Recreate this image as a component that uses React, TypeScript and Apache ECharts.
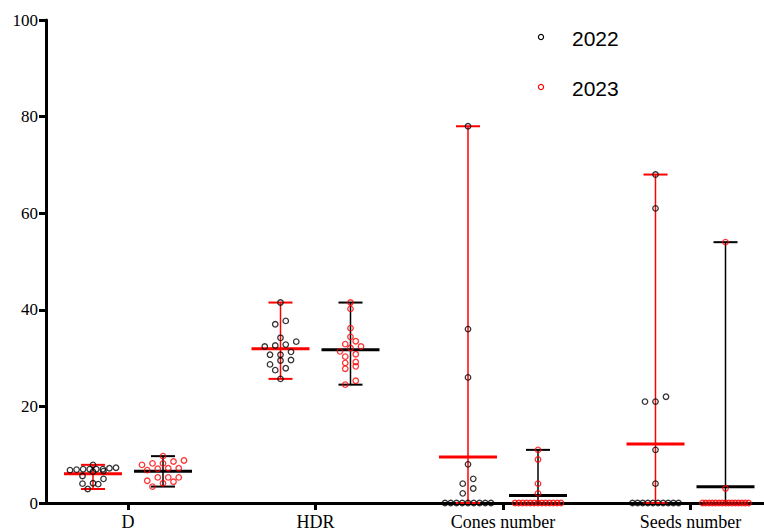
import React, { useEffect, useRef } from 'react';
import * as echarts from 'echarts';

// ---------------- data ----------------
const categories = ['D', 'HDR', 'Cones number', 'Seeds number'];
const yTicks = [0, 20, 40, 60, 80, 100];
const years = ['2022', '2023'];

const d2022 = [7.9, 7.2, 7.0, 7.0, 6.9, 7.0, 6.8, 7.0, 6.6, 7.3, 6.5, 5.6, 5.0, 4.0, 3.9, 4.1, 2.9];
const d2023 = [9.7, 8.2, 8.8, 8.2, 8.6, 7.9, 7.2, 7.1, 6.8, 7.2, 5.3, 5.3, 5.3, 4.1, 4.4, 4.6, 3.4];
const hdr2022 = [41.5, 37.0, 37.7, 34.2, 32.8, 32.4, 32.6, 33.4, 31.3, 30.7, 30.7, 29.6, 29.5, 28.7, 27.9, 27.5, 25.7];
const hdr2023 = [41.5, 40.2, 36.2, 34.4, 33.5, 32.9, 32.1, 32.4, 31.4, 30.8, 30.3, 29.0, 29.2, 28.3, 27.8, 25.3, 24.5];
const cones2022 = [78, 36, 26, 8, 5, 4, 3, 2, 0, 0, 0, 0, 0, 0, 0, 0, 0];
const cones2023 = [11, 9, 4, 2, 0, 0, 0, 0, 0, 0, 0, 0, 0, 0, 0, 0, 0];
const seeds2022 = [68, 61, 22, 21, 21, 11, 4, 0, 0, 0, 0, 0, 0, 0, 0, 0, 0];
const seeds2023 = [54, 3, 0, 0, 0, 0, 0, 0, 0, 0, 0, 0, 0, 0, 0, 0, 0];

const series2022 = [d2022, hdr2022, cones2022, seeds2022];
const series2023 = [d2023, hdr2023, cones2023, seeds2023];

// ---------------- layout ----------------
const W = 764;
const H = 532;
const GRID = { left: 46, right: 0, top: 20, bottom: 29 };
const X_MIN = 0.5627;
const X_MAX = 4.392;
const PX_PER_X = (W - GRID.left - GRID.right) / (X_MAX - X_MIN);
const PX_PER_Y = (H - GRID.top - GRID.bottom) / 100;
const GROUP_OFFSET_PX = 35;
const ROW_TOL_PX = 5;
const MAX_SPACING = 10.5;
const MAX_ROW_WIDTH = 46;

const RED = '#ff0000';
const BLACK = '#000000';
const SERIF = "'Liberation Serif', 'DejaVu Serif', serif";

function swarmOffsets(values: number[]): number[] {
  const idx = values.map((_, i) => i).sort((a, b) => values[a] - values[b]);
  const rows: number[][] = [];
  let cur: number[] = [];
  let start = 0;
  idx.forEach((i) => {
    if (cur.length === 0 || (values[i] - start) * PX_PER_Y >= ROW_TOL_PX) {
      if (cur.length) rows.push(cur);
      cur = [i];
      start = values[i];
    } else {
      cur.push(i);
    }
  });
  if (cur.length) rows.push(cur);
  const off = new Array(values.length).fill(0);
  rows.forEach((row) => {
    const k = row.length;
    const s = k > 1 ? Math.min(MAX_SPACING, MAX_ROW_WIDTH / (k - 1)) : 0;
    row.forEach((i, j) => {
      off[i] = (j - (k - 1) / 2) * s;
    });
  });
  return off;
}

function pointsFor(groups: number[][], side: number) {
  const pts: number[][] = [];
  groups.forEach((vals, ci) => {
    const offs = swarmOffsets(vals);
    const cx = ci + 1 + (side * GROUP_OFFSET_PX) / PX_PER_X;
    vals.forEach((v, i) => pts.push([cx + offs[i] / PX_PER_X, v]));
  });
  return pts;
}

function statsFor(groups: number[][], side: number) {
  return groups.map((vals, ci) => {
    const mean = vals.reduce((a, b) => a + b, 0) / vals.length;
    return [ci + 1 + (side * GROUP_OFFSET_PX) / PX_PER_X, Math.min(...vals), Math.max(...vals), mean];
  });
}

function statsRenderer(color: string) {
  return (params: any, api: any) => {
    const x = api.value(0);
    const lo = api.coord([x, api.value(1)]);
    const hi = api.coord([x, api.value(2)]);
    const m = api.coord([x, api.value(3)]);
    const capW = 12;
    const meanW = 29;
    return {
      type: 'group',
      children: [
        { type: 'line', shape: { x1: lo[0], y1: lo[1], x2: hi[0], y2: hi[1] }, style: { stroke: color, lineWidth: 1.5 } },
        { type: 'line', shape: { x1: lo[0] - capW, y1: lo[1], x2: lo[0] + capW, y2: lo[1] }, style: { stroke: color, lineWidth: 2 } },
        { type: 'line', shape: { x1: hi[0] - capW, y1: hi[1], x2: hi[0] + capW, y2: hi[1] }, style: { stroke: color, lineWidth: 2 } },
        { type: 'line', shape: { x1: m[0] - meanW, y1: m[1], x2: m[0] + meanW, y2: m[1] }, style: { stroke: color, lineWidth: 3 } },
      ],
    };
  };
}

const catValues = categories.map((_, i) => i + 1);

export default function App() {
  const ref = useRef<HTMLDivElement>(null);
  useEffect(() => {
    if (!ref.current) return;
    const chart = echarts.init(ref.current, undefined, { renderer: 'svg' });
    const pointStyle = (c: string) => ({ color: 'rgba(255,255,255,0)', borderColor: c, borderWidth: 1.3 });
    chart.setOption({
      animation: false,
      backgroundColor: '#ffffff',
      textStyle: { fontFamily: SERIF },
      grid: { ...GRID, containLabel: false },
      xAxis: {
        type: 'value',
        min: X_MIN,
        max: X_MAX,
        splitLine: { show: false },
        axisLine: { show: true, lineStyle: { color: BLACK, width: 3 } },
        axisTick: { show: true, customValues: catValues, length: 7, lineStyle: { color: BLACK, width: 3 } },
        axisLabel: {
          show: true,
          customValues: catValues,
          formatter: (v: number) => categories[Math.round(v) - 1] ?? '',
          fontFamily: SERIF,
          fontSize: 18,
          color: BLACK,
          margin: 10,
        },
      },
      yAxis: {
        type: 'value',
        min: yTicks[0],
        max: yTicks[yTicks.length - 1],
        interval: 20,
        splitLine: { show: false },
        axisLine: { show: true, lineStyle: { color: BLACK, width: 3 } },
        axisTick: { show: true, length: 7, lineStyle: { color: BLACK, width: 3 } },
        axisLabel: { fontFamily: SERIF, fontSize: 17, color: BLACK, margin: 8 },
      },
      series: [
        {
          type: 'custom',
          name: years[0] + ' mean',
          renderItem: statsRenderer(RED),
          data: statsFor(series2022, -1),
          encode: { x: 0, y: [1, 2, 3] },
          z: 3,
        },
        {
          type: 'custom',
          name: years[1] + ' mean',
          renderItem: statsRenderer(BLACK),
          data: statsFor(series2023, 1),
          encode: { x: 0, y: [1, 2, 3] },
          z: 3,
        },
        {
          type: 'scatter',
          name: years[0],
          symbol: 'circle',
          symbolSize: 5.5,
          itemStyle: pointStyle(BLACK),
          data: pointsFor(series2022, -1),
          z: 4,
        },
        {
          type: 'scatter',
          name: years[1],
          symbol: 'circle',
          symbolSize: 5.5,
          itemStyle: pointStyle(RED),
          data: pointsFor(series2023, 1),
          z: 4,
        },
      ],
      graphic: [
        { type: 'circle', shape: { cx: 541, cy: 37, r: 2.6 }, style: { fill: 'none', stroke: BLACK, lineWidth: 1.2 }, z: 10 },
        { type: 'text', x: 572, y: 38, style: { text: years[0], fontFamily: 'Liberation Sans', fontSize: 21, fill: BLACK, verticalAlign: 'middle' }, z: 10 },
        { type: 'circle', shape: { cx: 541, cy: 87, r: 2.6 }, style: { fill: 'none', stroke: RED, lineWidth: 1.2 }, z: 10 },
        { type: 'text', x: 572, y: 88, style: { text: years[1], fontFamily: 'Liberation Sans', fontSize: 21, fill: BLACK, verticalAlign: 'middle' }, z: 10 },
      ],
    });
    return () => chart.dispose();
  }, []);
  return <div ref={ref} style={{ position: 'fixed', left: 0, top: 0, width: W, height: H }} />;
}
